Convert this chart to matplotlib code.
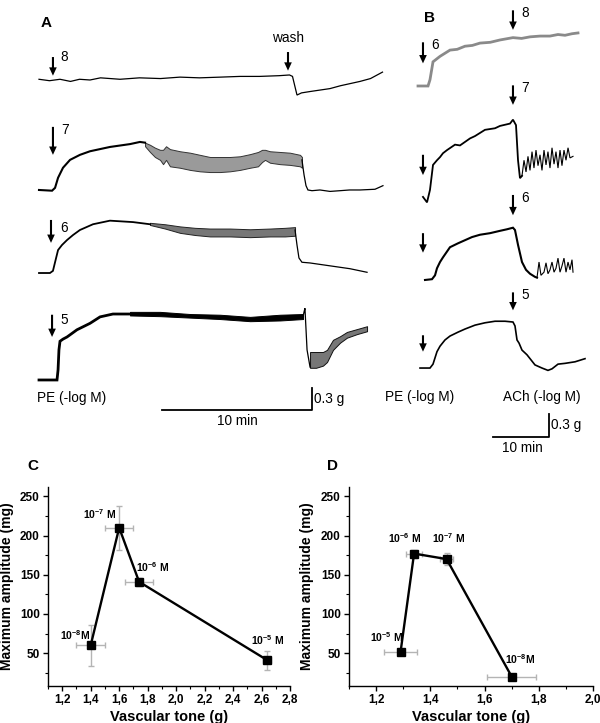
import numpy as np
import matplotlib
matplotlib.use('Agg')
import matplotlib.pyplot as plt

plt.rcParams['font.family'] = ['Liberation Sans', 'DejaVu Sans']
plt.rcParams['mathtext.fontset'] = 'custom'
plt.rcParams['mathtext.rm'] = 'Liberation Sans'
plt.rcParams['mathtext.bf'] = 'Liberation Sans:bold'

# ---------------- panel A: PE alone, time (min) / tension above baseline (g)
a8_t = [0, 0.7, 1.4, 2.1, 2.7, 3.4, 4.1, 5.4, 6.7, 8.1, 9.4, 10.7, 12.1, 13.4, 14.7, 16.0, 16.7, 16.9, 17.2, 17.5, 18.1, 19.4, 20.1, 21.4, 22.1, 22.9]
a8_g = [0, -0.02, 0.0, -0.03, 0.0, -0.01, 0.02, 0.0, 0.02, 0.01, 0.03, 0.02, 0.03, 0.04, 0.04, 0.05, 0.06, 0.04, -0.22, -0.19, -0.17, -0.13, -0.09, -0.03, 0.01, 0.10]

a7_t = [0, 0.87, 1.07, 1.27, 1.6, 2.07, 2.73, 3.4, 4.73, 6.07, 6.73, 7.07]
a7_g = [0, -0.01, 0.03, 0.17, 0.31, 0.42, 0.49, 0.54, 0.60, 0.64, 0.67, 0.66]
a7_osc_t = [7.07, 7.4, 7.73, 8.07, 8.27, 8.47, 8.73, 9.4, 10.07, 10.73, 11.4, 12.07, 12.73, 13.4, 14.07, 14.6, 14.87, 15.07, 15.4, 16.07, 16.73, 17.4, 17.53]
a7_osc_hi = [0.66, 0.63, 0.59, 0.56, 0.56, 0.61, 0.57, 0.54, 0.52, 0.49, 0.46, 0.46, 0.46, 0.47, 0.50, 0.53, 0.56, 0.56, 0.54, 0.53, 0.52, 0.49, 0.46]
a7_osc_lo = [0.61, 0.53, 0.46, 0.42, 0.36, 0.42, 0.33, 0.31, 0.28, 0.26, 0.25, 0.25, 0.26, 0.28, 0.31, 0.33, 0.39, 0.42, 0.38, 0.36, 0.35, 0.33, 0.31]
a7_wash_t = [17.53, 17.67, 17.8, 17.93, 18.2, 18.73, 19.4, 20.07, 20.7, 21.4, 22.4, 22.93]
a7_wash_g = [0.42, 0.21, 0.06, 0.0, -0.01, 0.0, -0.02, -0.01, 0.0, 0.0, 0.01, 0.06]

a6_t = [0, 0.73, 0.93, 1.07, 1.27, 1.53, 1.87, 2.27, 2.73, 3.6, 4.73, 6.27, 7.4]
a6_g = [0, 0, 0.03, 0.15, 0.32, 0.39, 0.46, 0.53, 0.60, 0.68, 0.73, 0.71, 0.68]
a6_osc_t = [7.4, 8.4, 9.4, 10.4, 11.4, 12.73, 14.07, 15.4, 16.4, 17.07]
a6_osc_hi = [0.70, 0.68, 0.65, 0.63, 0.62, 0.62, 0.61, 0.62, 0.63, 0.64]
a6_osc_lo = [0.67, 0.62, 0.56, 0.53, 0.51, 0.51, 0.50, 0.51, 0.51, 0.52]
a6_wash_t = [17.07, 17.2, 17.33, 17.53, 18.07, 19.4, 20.73, 21.87]
a6_wash_g = [0.60, 0.39, 0.21, 0.15, 0.14, 0.10, 0.06, 0.01]

a5_t = [0, 1.2, 1.27, 1.33, 1.4, 1.6, 1.87, 2.53, 3.4, 4.07, 4.93, 6.07]
a5_g = [0, 0, 0.14, 0.42, 0.54, 0.57, 0.60, 0.70, 0.79, 0.88, 0.92, 0.92]
a5_band_t = [6.07, 8.07, 10.07, 12.07, 14.07, 16.07, 17.6]
a5_band_hi = [0.95, 0.95, 0.92, 0.91, 0.88, 0.91, 0.92]
a5_band_lo = [0.90, 0.89, 0.87, 0.85, 0.82, 0.83, 0.85]
a5_wash_t = [17.6, 17.67, 17.73, 17.87, 18.07]
a5_wash_g = [0.88, 0.95, 1.0, 0.42, 0.18]
a5_osc_t = [18.07, 18.47, 18.93, 19.2, 19.6, 20.07, 20.53, 21.2, 21.87]
a5_osc_hi = [0.39, 0.39, 0.39, 0.42, 0.56, 0.61, 0.67, 0.71, 0.75]
a5_osc_lo = [0.17, 0.17, 0.20, 0.25, 0.42, 0.52, 0.59, 0.64, 0.68]

# ---------------- panel B: PE then ACh
b8_t = [0, 1.79, 2.14, 2.68, 3.93, 5.71, 7.0, 8.39, 9.7, 11.07, 12.9, 14.64, 16.96, 18.5, 20.0, 21.8, 23.57, 25.0, 26.25, 27.5, 28.57]
b8_g = [0, 0, 0.08, 0.31, 0.38, 0.46, 0.47, 0.51, 0.52, 0.55, 0.56, 0.59, 0.62, 0.61, 0.63, 0.64, 0.64, 0.66, 0.65, 0.67, 0.68]

b7_t = [0.89, 1.61, 2.14, 2.68, 3.39, 3.93, 4.46, 5.18, 6.61, 7.5, 9.29, 10.18, 11.96, 13.75, 14.64, 16.43, 16.96, 17.5, 17.86, 18.21, 18.57]
b7_g = [0.04, -0.03, 0.13, 0.45, 0.51, 0.55, 0.60, 0.64, 0.71, 0.70, 0.79, 0.82, 0.90, 0.92, 0.95, 0.98, 1.03, 0.96, 0.51, 0.28, 0.31]
b7_osc_t = [18.57, 18.93, 19.29, 19.64, 20.0, 20.36, 20.71, 21.07, 21.43, 21.79, 22.14, 22.5, 22.86, 23.21, 23.57, 23.93, 24.29, 24.64, 25.0, 25.36, 25.71, 26.07, 26.43, 26.79, 27.14, 27.68]
b7_osc_g = [0.31, 0.51, 0.36, 0.56, 0.38, 0.62, 0.41, 0.64, 0.44, 0.58, 0.38, 0.64, 0.45, 0.62, 0.41, 0.67, 0.46, 0.62, 0.41, 0.64, 0.44, 0.64, 0.51, 0.67, 0.54, 0.56]

b6_t = [1.25, 2.5, 3.04, 3.39, 3.93, 4.46, 5.71, 7.14, 8.39, 9.64, 11.07, 12.86, 14.64, 15.89, 16.96, 17.32, 17.86, 18.57, 19.29, 20.0, 20.89, 21.25]
b6_g = [0, 0.01, 0.06, 0.15, 0.23, 0.29, 0.42, 0.47, 0.51, 0.55, 0.58, 0.60, 0.63, 0.65, 0.67, 0.64, 0.45, 0.23, 0.13, 0.08, 0.04, 0.03]
b6_osc_t = [21.25, 21.61, 21.96, 22.5, 22.86, 23.21, 23.57, 23.93, 24.29, 24.64, 25.0, 25.36, 25.71, 26.07, 26.43, 26.79, 27.14, 27.5, 27.68]
b6_osc_g = [0.03, 0.23, 0.06, 0.10, 0.22, 0.08, 0.13, 0.23, 0.10, 0.15, 0.28, 0.10, 0.18, 0.28, 0.10, 0.23, 0.13, 0.26, 0.10]

b5_t = [0.36, 2.14, 2.68, 3.39, 3.93, 4.82, 5.71, 7.14, 8.39, 10.18, 11.96, 13.75, 15.54, 16.96, 17.32, 17.68, 18.04, 18.57, 19.46, 20.89, 22.14, 23.21, 23.93, 25.0, 26.25, 28.04, 29.82]
b5_g = [0, 0, 0.05, 0.21, 0.28, 0.36, 0.41, 0.46, 0.50, 0.55, 0.58, 0.60, 0.60, 0.59, 0.54, 0.36, 0.32, 0.23, 0.17, 0.04, 0.0, -0.03, -0.01, 0.05, 0.06, 0.08, 0.12]

# ---------------- panels C and D
c_tone = [1.40, 1.60, 1.74, 2.64]
c_tone_err = [0.10, 0.10, 0.10, 0.03]
c_amp = [60, 210, 141, 41]
c_amp_err = [26, 28, 5, 12]
c_conc = [('-8', ''), ('-7', ' '), ('-6', ' '), ('-5', ' ')]

d_tone = [1.29, 1.34, 1.46, 1.70]
d_tone_err = [0.06, 0.03, 0.025, 0.09]
d_amp = [51, 177, 170, 20]
d_amp_err = [4, 5, 8, 1]
d_conc = [('-5', ' '), ('-6', ' '), ('-7', ' '), ('-8', '')]

fig = plt.figure(figsize=(6, 7.23), dpi=100)
top = [0, 263 / 723, 1, 460 / 723]

axA = fig.add_axes(top)
axA.set_xlim(-2.6, 37.4)
axA.set_ylim(0, 460 / 71.7)
axA.axis('off')
axA.patch.set_alpha(0)

axB = fig.add_axes(top)
axB.set_xlim(-418 / 5.6, 182 / 5.6)
axB.set_ylim(0, 460 / 78)
axB.axis('off')
axB.patch.set_alpha(0)

lw = 0.9


def line(ax, t, g, off, **kw):
    kw.setdefault('color', 'k')
    kw.setdefault('lw', lw)
    ax.plot(t, np.array(g) + off, solid_joinstyle='miter', **kw)


def band(ax, t, lo, hi, off, color='#303030', edge='k'):
    ax.fill_between(t, np.array(lo) + off, np.array(hi) + off, facecolor=color, lw=0.7, edgecolor=edge)


def arrow(ax, x, y_tail, y_tip):
    ax.annotate('', xy=(x, y_tip), xytext=(x, y_tail),
                arrowprops=dict(arrowstyle='simple,head_width=0.55,head_length=0.6,tail_width=0.15',
                                color='k', lw=0, shrinkA=0, shrinkB=0), annotation_clip=False)


# panel A layout (offsets in g)
offA = {'8': 5.31, '7': 3.766, '6': 2.608, '5': 1.116}
line(axA, a8_t, a8_g, offA['8'])
line(axA, a7_t, a7_g, offA['7'], lw=1.5)
band(axA, a7_osc_t, a7_osc_lo, a7_osc_hi, offA['7'], color='#9a9a9a', edge='#333333')
line(axA, a7_wash_t, a7_wash_g, offA['7'])
line(axA, a6_t, a6_g, offA['6'], lw=1.3)
band(axA, a6_osc_t, a6_osc_lo, a6_osc_hi, offA['6'], color='#777777', edge='#222222')
line(axA, a6_wash_t, a6_wash_g, offA['6'])
line(axA, a5_t, a5_g, offA['5'], lw=2.0)
band(axA, a5_band_t, a5_band_lo, a5_band_hi, offA['5'], color='k')
line(axA, a5_wash_t, a5_wash_g, offA['5'])
band(axA, a5_osc_t, a5_osc_lo, a5_osc_hi, offA['5'], color='#777777', edge='#111111')

arrow(axA, 0.93, offA['8'] + 0.31, offA['8'] + 0.05)
arrow(axA, 0.93, offA['7'] + 0.88, offA['7'] + 0.49)
arrow(axA, 0.8, offA['6'] + 0.74, offA['6'] + 0.42)
arrow(axA, 0.87, offA['5'] + 0.91, offA['5'] + 0.60)
arrow(axA, 16.6, offA['8'] + 0.38, offA['8'] + 0.12)
fsA = 9.8
axA.text(1.4, offA['8'] + 0.31, '8', fontsize=fsA, va='center')
axA.text(1.5, offA['7'] + 0.84, '7', fontsize=fsA, va='center')
axA.text(1.4, offA['6'] + 0.63, '6', fontsize=fsA, va='center')
axA.text(1.4, offA['5'] + 0.84, '5', fontsize=fsA, va='center')
axA.text(16.6, offA['8'] + 0.57, 'wash', fontsize=fsA, ha='center', va='center')
axA.text(-0.13, 0.865, 'PE (-log M)', fontsize=fsA, va='center')
axA.plot([8.2, 18.2, 18.2], [0.704, 0.704, 1.004], color='k', lw=1.3)
axA.text(18.35, 0.85, '0.3 g', fontsize=fsA, va='center')
axA.text(13.2, 0.54, '10 min', fontsize=fsA, ha='center', va='center')
axA.text(0.1, 6.1, 'A', fontsize=11, fontweight='bold', va='center')

# panel B layout
offB = {'8': 4.795, '7': 3.333, '6': 2.308, '5': 1.179}
line(axB, b8_t, b8_g, offB['8'], color='#8a8a8a', lw=2.0)
line(axB, b7_t, b7_g, offB['7'], lw=1.3)
line(axB, b7_osc_t, b7_osc_g, offB['7'], lw=0.8)
line(axB, b6_t, b6_g, offB['6'], lw=1.5)
line(axB, b6_osc_t, b6_osc_g, offB['6'], lw=0.8)
line(axB, b5_t, b5_g, offB['5'], lw=1.2)

for key, tail, tip in [('8', 0.56, 0.29), ('7', 0.58, 0.32), ('6', 0.60, 0.35), ('5', 0.42, 0.21)]:
    arrow(axB, 0.89, offB[key] + tail, offB[key] + tip)
for key, tail, tip in [('8', 0.97, 0.72), ('7', 1.47, 1.22), ('6', 1.09, 0.83), ('5', 0.97, 0.74)]:
    arrow(axB, 16.96, offB[key] + tail, offB[key] + tip)
    axB.text(18.4, offB[key] + tail - 0.04, key, fontsize=fsA, va='center')
axB.text(2.4, offB['8'] + 0.52, '6', fontsize=fsA, va='center')
axB.text(-5.9, 0.81, 'PE (-log M)', fontsize=fsA, va='center')
axB.text(15.18, 0.81, 'ACh (-log M)', fontsize=fsA, va='center')
axB.plot([13.39, 23.39, 23.39], [0.295, 0.295, 0.595], color='k', lw=1.3)
axB.text(23.8, 0.45, '0.3 g', fontsize=fsA, va='center')
axB.text(18.57, 0.16, '10 min', fontsize=fsA, ha='center', va='center')
axB.text(1.0, 5.67, 'B', fontsize=11, fontweight='bold', va='center')


# ---------------- C and D
def scatter_panel(rect, tone, tone_err, amp, amp_err, conc, label_pos, xlim, xticks, letter, letter_x):
    ax = fig.add_axes(rect)
    ax.errorbar(tone, amp, xerr=tone_err, yerr=amp_err, fmt='none', ecolor='#b4b4b4',
                elinewidth=1.0, capsize=2, capthick=1.0, zorder=1)
    ax.plot(tone, amp, color='k', lw=1.7, marker='s', ms=6, zorder=2)
    for (c, sp), (x, y) in zip(conc, label_pos):
        ax.text(x, y, r'$\mathbf{10^{%s}}$%sM' % (c, sp), fontsize=7.5, fontweight='bold',
                ha='center', va='center')
    ax.set_xlim(*xlim)
    ax.set_ylim(8, 262)
    ax.set_xticks(xticks)
    ax.set_xticklabels([('%.1f' % v).replace('.', ',') for v in xticks])
    ax.set_xticks(np.arange(xlim[0], xlim[1] + 0.01, 0.1), minor=True)
    ax.set_yticks([50, 100, 150, 200, 250])
    ax.set_yticks([25, 75, 125, 175, 225], minor=True)
    for s in ['top', 'right']:
        ax.spines[s].set_visible(False)
    for s in ['left', 'bottom']:
        ax.spines[s].set_linewidth(1.0)
    ax.tick_params(which='major', length=3.5, width=1.0, labelsize=8.5, pad=2.5)
    ax.tick_params(which='minor', length=2.5, width=0.8)
    for lab in ax.get_xticklabels() + ax.get_yticklabels():
        lab.set_fontweight('bold')
    ax.set_xlabel('Vascular tone (g)', fontsize=10.5, fontweight='bold')
    ax.set_ylabel('Maximum amplitude (mg)', fontsize=10, fontweight='bold')
    ax.xaxis.set_label_coords(0.5, -0.12)
    ax.yaxis.set_label_coords(-0.142, 0.5)
    ax.text(letter_x, 1.105, letter, transform=ax.transAxes, fontsize=11, fontweight='bold',
            ha='center', va='center')
    return ax


scatter_panel([48 / 600, 37 / 723, 242 / 600, 199 / 723], c_tone, c_tone_err, c_amp, c_amp_err, c_conc,
              [(1.29, 73), (1.46, 227), (1.835, 160), (2.64, 67)], (1.1, 2.8),
              [1.2, 1.4, 1.6, 1.8, 2.0, 2.2, 2.4, 2.6, 2.8], 'C', -0.062)
scatter_panel([349 / 600, 37 / 723, 244 / 600, 199 / 723], d_tone, d_tone_err, d_amp, d_amp_err, d_conc,
              [(1.24, 71), (1.305, 197), (1.468, 197), (1.73, 42)], (1.1, 2.0),
              [1.2, 1.4, 1.6, 1.8, 2.0], 'D', -0.066)

fig.savefig('out.png', dpi=100)
